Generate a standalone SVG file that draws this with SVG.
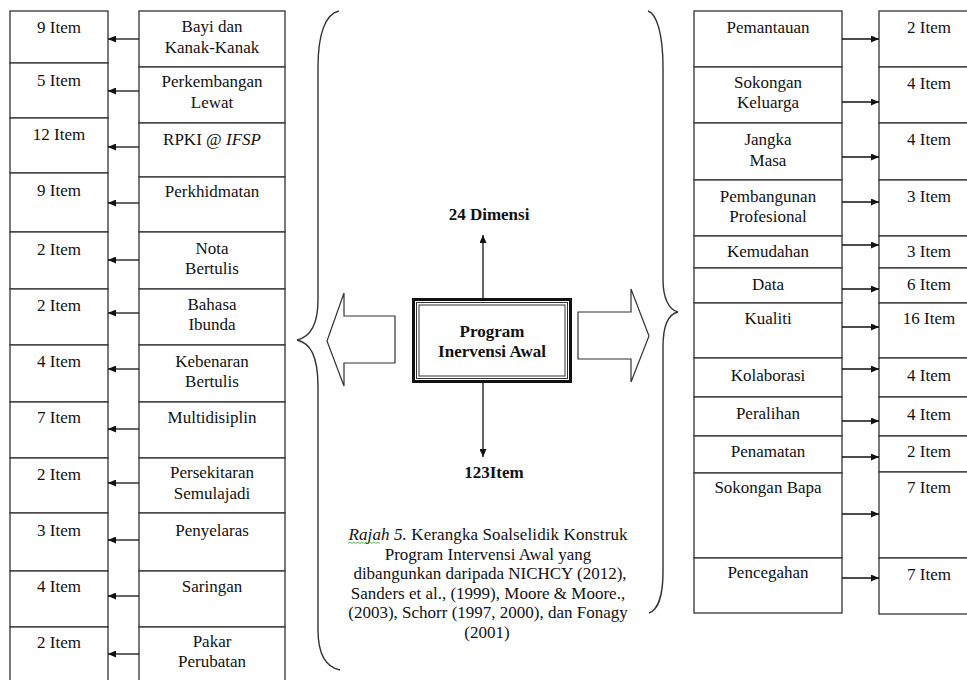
<svg xmlns="http://www.w3.org/2000/svg" width="967" height="680" viewBox="0 0 967 680">
<style>
  .box { fill: #fff; stroke: #333; stroke-width: 1.3; }
  text { font-family: 'Liberation Serif', 'DejaVu Serif', serif; font-size: 17px; fill: #111; text-anchor: middle; }
  .b { font-weight: bold; }
  .conn { stroke: #111; stroke-width: 1.3; fill: none; }
  .brace { stroke: #333; stroke-width: 1.4; fill: none; }
  .blk { fill: #fff; stroke: #333; stroke-width: 1.2; }
</style>
<defs>
  <marker id="ah" markerUnits="userSpaceOnUse" markerWidth="9" markerHeight="7" refX="8" refY="3.5" orient="auto">
    <path d="M0,0 L8,3.5 L0,7 z" fill="#111"/>
  </marker>
</defs>
<rect width="967" height="680" fill="#fff"/>

<g font-family="Liberation Serif, DejaVu Serif, serif">
<!-- Left item boxes -->
<g id="L-item-1"><rect class="box" x="10" y="11" width="98" height="52"/><text x="59" y="33">9 Item</text></g>
<g id="L-item-2"><rect class="box" x="10" y="63" width="98" height="55"/><text x="59" y="86">5 Item</text></g>
<g id="L-item-3"><rect class="box" x="10" y="118" width="98" height="55"/><text x="59" y="140">12 Item</text></g>
<g id="L-item-4"><rect class="box" x="10" y="173" width="98" height="59"/><text x="59" y="196">9 Item</text></g>
<g id="L-item-5"><rect class="box" x="10" y="232" width="98" height="57"/><text x="59" y="255">2 Item</text></g>
<g id="L-item-6"><rect class="box" x="10" y="289" width="98" height="56"/><text x="59" y="311">2 Item</text></g>
<g id="L-item-7"><rect class="box" x="10" y="345" width="98" height="57"/><text x="59" y="367">4 Item</text></g>
<g id="L-item-8"><rect class="box" x="10" y="402" width="98" height="56"/><text x="59" y="423">7 Item</text></g>
<g id="L-item-9"><rect class="box" x="10" y="458" width="98" height="55"/><text x="59" y="480">2 Item</text></g>
<g id="L-item-10"><rect class="box" x="10" y="513" width="98" height="58"/><text x="59" y="536">3 Item</text></g>
<g id="L-item-11"><rect class="box" x="10" y="571" width="98" height="56"/><text x="59" y="592">4 Item</text></g>
<g id="L-item-12"><rect class="box" x="10" y="627" width="98" height="60"/><text x="59" y="648">2 Item</text></g>

<!-- Left label boxes -->
<g id="L-lab-1"><rect class="box" x="139" y="11" width="146" height="56"/><text x="212" y="32">Bayi dan</text><text x="212" y="53">Kanak-Kanak</text></g>
<g id="L-lab-2"><rect class="box" x="139" y="67" width="146" height="56"/><text x="212" y="87">Perkembangan</text><text x="212" y="108">Lewat</text></g>
<g id="L-lab-3"><rect class="box" x="139" y="123" width="146" height="54"/><text x="212" y="145">RPKI @ <tspan font-style="italic">IFSP</tspan></text></g>
<g id="L-lab-4"><rect class="box" x="139" y="177" width="146" height="55"/><text x="212" y="197">Perkhidmatan</text></g>
<g id="L-lab-5"><rect class="box" x="139" y="232" width="146" height="57"/><text x="212" y="254">Nota</text><text x="212" y="274">Bertulis</text></g>
<g id="L-lab-6"><rect class="box" x="139" y="289" width="146" height="56"/><text x="212" y="310">Bahasa</text><text x="212" y="330">Ibunda</text></g>
<g id="L-lab-7"><rect class="box" x="139" y="345" width="146" height="57"/><text x="212" y="367">Kebenaran</text><text x="212" y="387">Bertulis</text></g>
<g id="L-lab-8"><rect class="box" x="139" y="402" width="146" height="56"/><text x="212" y="423">Multidisiplin</text></g>
<g id="L-lab-9"><rect class="box" x="139" y="458" width="146" height="55"/><text x="212" y="478">Persekitaran</text><text x="212" y="499">Semulajadi</text></g>
<g id="L-lab-10"><rect class="box" x="139" y="513" width="146" height="58"/><text x="212" y="536">Penyelaras</text></g>
<g id="L-lab-11"><rect class="box" x="139" y="571" width="146" height="56"/><text x="212" y="592">Saringan</text></g>
<g id="L-lab-12"><rect class="box" x="139" y="627" width="146" height="60"/><text x="212" y="647">Pakar</text><text x="212" y="667">Perubatan</text></g>

<!-- Right label boxes -->
<g id="R-lab-1"><rect class="box" x="694" y="11" width="148" height="56"/><text x="768" y="33">Pemantauan</text></g>
<g id="R-lab-2"><rect class="box" x="694" y="67" width="148" height="56"/><text x="768" y="88">Sokongan</text><text x="768" y="108">Keluarga</text></g>
<g id="R-lab-3"><rect class="box" x="694" y="123" width="148" height="57"/><text x="768" y="145">Jangka</text><text x="768" y="166">Masa</text></g>
<g id="R-lab-4"><rect class="box" x="694" y="180" width="148" height="56"/><text x="768" y="202">Pembangunan</text><text x="768" y="222">Profesional</text></g>
<g id="R-lab-5"><rect class="box" x="694" y="236" width="148" height="32"/><text x="768" y="257">Kemudahan</text></g>
<g id="R-lab-6"><rect class="box" x="694" y="268" width="148" height="35"/><text x="768" y="290">Data</text></g>
<g id="R-lab-7"><rect class="box" x="694" y="303" width="148" height="55"/><text x="768" y="324">Kualiti</text></g>
<g id="R-lab-8"><rect class="box" x="694" y="358" width="148" height="39"/><text x="768" y="381">Kolaborasi</text></g>
<g id="R-lab-9"><rect class="box" x="694" y="397" width="148" height="39"/><text x="768" y="419">Peralihan</text></g>
<g id="R-lab-10"><rect class="box" x="694" y="436" width="148" height="37"/><text x="768" y="457">Penamatan</text></g>
<g id="R-lab-11"><rect class="box" x="694" y="473" width="148" height="85"/><text x="768" y="493">Sokongan Bapa</text></g>
<g id="R-lab-12"><rect class="box" x="694" y="558" width="148" height="55"/><text x="768" y="578">Pencegahan</text></g>

<!-- Right item boxes -->
<g id="R-item-1"><rect class="box" x="879" y="11" width="100" height="56"/><text x="929" y="33">2 Item</text></g>
<g id="R-item-2"><rect class="box" x="879" y="67" width="100" height="56"/><text x="929" y="89">4 Item</text></g>
<g id="R-item-3"><rect class="box" x="879" y="123" width="100" height="57"/><text x="929" y="145">4 Item</text></g>
<g id="R-item-4"><rect class="box" x="879" y="180" width="100" height="56"/><text x="929" y="202">3 Item</text></g>
<g id="R-item-5"><rect class="box" x="879" y="236" width="100" height="32"/><text x="929" y="257">3 Item</text></g>
<g id="R-item-6"><rect class="box" x="879" y="268" width="100" height="35"/><text x="929" y="290">6 Item</text></g>
<g id="R-item-7"><rect class="box" x="879" y="303" width="100" height="55"/><text x="929" y="324">16 Item</text></g>
<g id="R-item-8"><rect class="box" x="879" y="358" width="100" height="39"/><text x="929" y="381">4 Item</text></g>
<g id="R-item-9"><rect class="box" x="879" y="397" width="100" height="39"/><text x="929" y="420">4 Item</text></g>
<g id="R-item-10"><rect class="box" x="879" y="436" width="100" height="36"/><text x="929" y="457">2 Item</text></g>
<g id="R-item-11"><rect class="box" x="879" y="472" width="100" height="86"/><text x="929" y="493">7 Item</text></g>
<g id="R-item-12"><rect class="box" x="879" y="558" width="100" height="56"/><text x="929" y="580">7 Item</text></g>

<!-- Center node -->
<g id="center">
  <rect x="413.5" y="299.5" width="157" height="82" fill="#fff" stroke="#111" stroke-width="3"/>
  <rect x="416.5" y="302.5" width="151" height="76" fill="none" stroke="#333" stroke-width="1"/>
  <rect x="419" y="305" width="146" height="71" fill="none" stroke="#333" stroke-width="1"/>
  <text class="b" x="492" y="337">Program</text>
  <text class="b" x="492" y="357">Inervensi Awal</text>
</g>
<g id="dimensi"><text class="b" x="489" y="220">24 Dimensi</text></g>
<g id="items-total"><text class="b" x="494" y="478">123Item</text></g>

<!-- Braces and block arrows -->
<g id="braces">
  <path class="brace" d="M339,11 C325,14 318,35 318,67 L318,300 C318,325 310,337 297,340 C310,343 318,355 318,387 L318,630 C318,655 326,667 340,670"/>
  <path class="brace" d="M648,11 C657,14 663,35 663,67 L663,280 C663,298 669,310 678,312 C669,314 663,325 663,347 L663,572 C663,595 658,610 649,613"/>
  <polygon class="blk" points="395,316 344,316 344,293 327,341 344,386 344,363 395,363"/>
  <polygon class="blk" points="578,312 631,312 631,289 649,336 631,382 631,359 578,359"/>
</g>

<!-- Connectors -->
<g id="connectors">
  <line class="conn" x1="139" y1="39" x2="108" y2="39" marker-end="url(#ah)"/>
  <line class="conn" x1="139" y1="91" x2="108" y2="91" marker-end="url(#ah)"/>
  <line class="conn" x1="139" y1="147" x2="108" y2="147" marker-end="url(#ah)"/>
  <line class="conn" x1="139" y1="203" x2="108" y2="203" marker-end="url(#ah)"/>
  <line class="conn" x1="139" y1="260" x2="108" y2="260" marker-end="url(#ah)"/>
  <line class="conn" x1="139" y1="313" x2="108" y2="313" marker-end="url(#ah)"/>
  <line class="conn" x1="139" y1="369" x2="108" y2="369" marker-end="url(#ah)"/>
  <line class="conn" x1="139" y1="429" x2="108" y2="429" marker-end="url(#ah)"/>
  <line class="conn" x1="139" y1="483" x2="108" y2="483" marker-end="url(#ah)"/>
  <line class="conn" x1="139" y1="540" x2="108" y2="540" marker-end="url(#ah)"/>
  <line class="conn" x1="139" y1="596" x2="108" y2="596" marker-end="url(#ah)"/>
  <line class="conn" x1="139" y1="654" x2="108" y2="654" marker-end="url(#ah)"/>

  <line class="conn" x1="842" y1="39" x2="879" y2="39" marker-end="url(#ah)"/>
  <line class="conn" x1="842" y1="102" x2="879" y2="102" marker-end="url(#ah)"/>
  <line class="conn" x1="842" y1="157" x2="879" y2="157" marker-end="url(#ah)"/>
  <line class="conn" x1="842" y1="202" x2="879" y2="202" marker-end="url(#ah)"/>
  <line class="conn" x1="842" y1="245" x2="879" y2="245" marker-end="url(#ah)"/>
  <line class="conn" x1="842" y1="289" x2="879" y2="289" marker-end="url(#ah)"/>
  <line class="conn" x1="842" y1="327" x2="879" y2="327" marker-end="url(#ah)"/>
  <line class="conn" x1="842" y1="369" x2="879" y2="369" marker-end="url(#ah)"/>
  <line class="conn" x1="842" y1="421" x2="879" y2="421" marker-end="url(#ah)"/>
  <line class="conn" x1="842" y1="457" x2="879" y2="457" marker-end="url(#ah)"/>
  <line class="conn" x1="842" y1="514" x2="879" y2="514" marker-end="url(#ah)"/>
  <line class="conn" x1="842" y1="578" x2="879" y2="578" marker-end="url(#ah)"/>

  <line class="conn" x1="483" y1="298" x2="483" y2="235" marker-end="url(#ah)"/>
  <line class="conn" x1="483" y1="383" x2="483" y2="457" marker-end="url(#ah)"/>
</g>

<!-- Caption -->
<g id="caption">
  <text x="488" y="540" textLength="279" lengthAdjust="spacing"><tspan font-style="italic">Rajah 5.</tspan> Kerangka Soalselidik Konstruk</text>
  <path d="M348,543.5 l2,-1.5 l2,1.5 l2,-1.5 l2,1.5 l2,-1.5 l2,1.5 l2,-1.5 l2,1.5 l2,-1.5 l2,1.5 l2,-1.5 l2,1.5 l2,-1.5 l2,1.5 l2,-1.5 l2,1.5" fill="none" stroke="#3a3" stroke-width="0.8"/>
  <text x="488" y="560">Program Intervensi Awal yang</text>
  <text x="490" y="579">dibangunkan daripada NICHCY (2012),</text>
  <text x="488" y="599">Sanders et al., (1999), Moore &amp; Moore.,</text>
  <text x="488" y="618">(2003), Schorr (1997, 2000), dan Fonagy</text>
  <text x="487" y="638">(2001)</text>
</g>
</g>
</svg>
